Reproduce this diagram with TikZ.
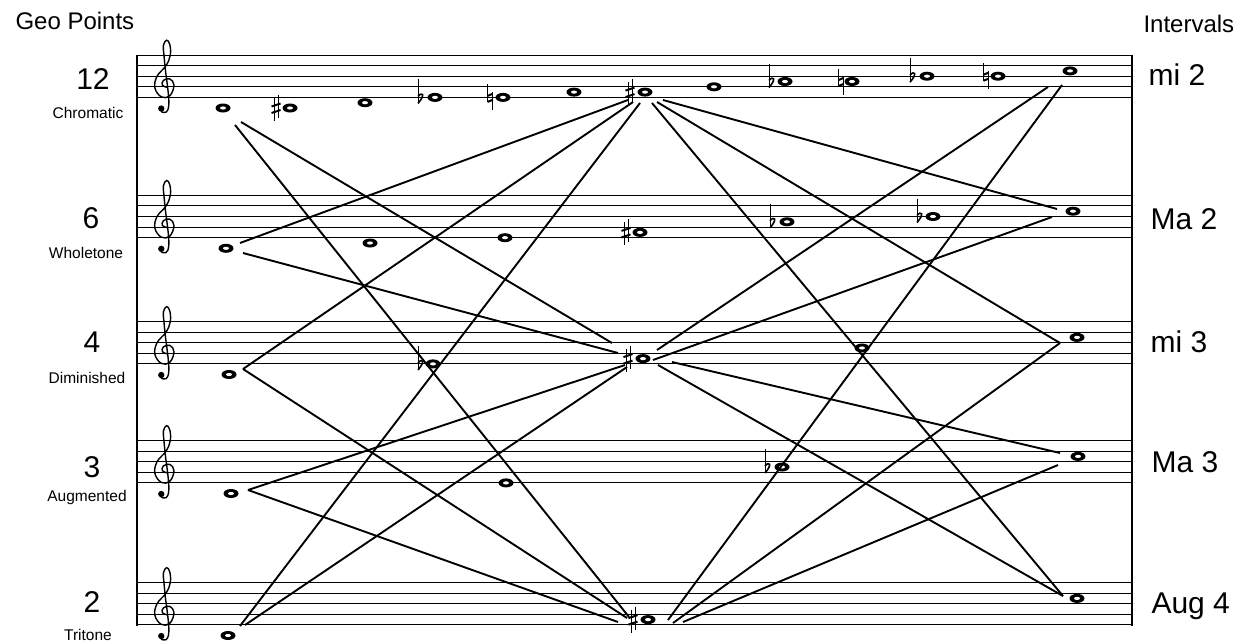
\documentclass[tikz,border=0pt]{standalone}
\usepackage{fontspec}
\setmainfont{Liberation Sans}
\usetikzlibrary{positioning,shapes.geometric,calc}

\tikzset{
  gclef/.pic={
    \begin{scope}[x=10.6pt,y=10.6pt]
      \draw[line width=1.4pt, line cap=round] plot[smooth, tension=0.65] coordinates {
        (0.2,0.95) (-0.25,1.15) (-0.15,1.6) (0.45,1.75) (0.85,1.15) (0.45,0.15)
        (-0.35,0.05) (-0.95,0.9) (-0.75,2.0) (0.1,3.0) (0.5,4.0) (0.45,5.0)
        (0.15,5.4) (-0.15,4.9) (-0.1,4.0) (0.05,2.5) (0.3,0.5) (0.35,-0.8)
        (0.1,-1.4) (-0.35,-1.35)};
      \fill (-0.35,-1.05) circle (0.3);
    \end{scope}
  },
  sharpsign/.pic={
    \draw[line width=0.8pt] (-2,-10) -- (-2,13) (2,-13) -- (2,10);
    \draw[line width=2pt] (-4.5,-1.5) -- (4.5,-4.5) (-4.5,5) -- (4.5,2);
  },
  naturalsign/.pic={
    \draw[line width=0.8pt] (-2.5,-13) -- (-2.5,5) (2.5,-5) -- (2.5,13);
    \draw[line width=2pt] (-2.5,-1.5) -- (2.5,-3.5) (-2.5,4.5) -- (2.5,2.5);
  },
  flatsign/.pic={
    \draw[line width=0.8pt] (0,-18) -- (0,6);
    \draw[line width=1.6pt] (0,-1) .. controls (4,-6) and (8,-3) .. (0,6);
  }
}

\begin{document}
\begin{tikzpicture}[x=1pt,y=-1pt,
    staffline/.style={line width=1pt},
    frame/.style={line width=2.4pt},
    link/.style={line width=1.9pt},
    note/.style={ellipse, fill=black, minimum width=15pt, minimum height=9pt, inner sep=0pt,
      path picture={\fill[white, rotate around={35:(path picture bounding box.center)}]
        (path picture bounding box.center) ellipse (3pt and 1.6pt);}},
    num/.style={font=\fontsize{30}{30}\selectfont, anchor=base},
    kind/.style={font=\fontsize{15.5}{16}\selectfont, anchor=base},
    ival/.style={font=\fontsize{30}{30}\selectfont, anchor=base west},
    head/.style={font=\fontsize{24}{24}\selectfont, anchor=base west}]
    \useasboundingbox (0,0) rectangle (1242,643);

    % Staves
    \foreach \t in {55,195.3,321.5,440.5,582.5} {
      \foreach \k in {0,...,4}
        \draw[staffline] (137,\t+\k*10.6) -- (1132,\t+\k*10.6);
      \pic at (165,\t+42.4) {gclef};
    }
    \draw[frame] (137,54.5) -- (137,625.5);
    \draw[frame] (1132,54.5) -- (1132,625.5);

    % Headings
    \node[head] (geo) at (12,29) {Geo Points};
    \node[head] (int) at (1140,32) {Intervals};

    % Left labels
    \node[num] (n12) at (93,89) {12};
    \node[kind] (k12) at (88,118) {Chromatic};
    \node[num] (n6) at (91,228) {6};
    \node[kind] (k6) at (86,258) {Wholetone};
    \node[num] (n4) at (92,352) {4};
    \node[kind] (k4) at (87,383) {Diminished};
    \node[num] (n3) at (92,477) {3};
    \node[kind] (k3) at (87,501) {Augmented};
    \node[num] (n2) at (92,612) {2};
    \node[kind] (k2) at (88,640) {Tritone};

    % Right labels
    \node[ival] (i1) at (1145,85) {mi 2};
    \node[ival] (i2) at (1147,229) {Ma 2};
    \node[ival] (i3) at (1147,352) {mi 3};
    \node[ival] (i4) at (1148,472) {Ma 3};
    \node[ival] (i5) at (1148,613) {Aug 4};

    % Chromatic
    \node[note] (chrC) at (223,108) {};
    \node[note] (chrCs) at (290,108) {};
    \node[note] (chrD) at (365,102.7) {};
    \node[note] (chrEb) at (435,97.4) {};
    \node[note] (chrE) at (503,97.4) {};
    \node[note] (chrF) at (574,92.1) {};
    \node[note] (chrFs) at (645,92.1) {};
    \node[note] (chrG) at (714,86.8) {};
    \node[note] (chrAb) at (785,81.5) {};
    \node[note] (chrA) at (852,81.5) {};
    \node[note] (chrBb) at (927,76.2) {};
    \node[note] (chrB) at (998,76.2) {};
    \node[note] (chrCC) at (1070,70.9) {};
    \pic at ($(chrCs)+(-14,0)$) {sharpsign};
    \pic at ($(chrEb)+(-17,0)$) {flatsign};
    \pic at ($(chrE)+(-13,0)$) {naturalsign};
    \pic at ($(chrFs)+(-15,0)$) {sharpsign};
    \pic at ($(chrAb)+(-16,0)$) {flatsign};
    \pic at ($(chrA)+(-11,0)$) {naturalsign};
    \pic at ($(chrBb)+(-17,0)$) {flatsign};
    \pic at ($(chrB)+(-12,0)$) {naturalsign};

    % Wholetone
    \node[note] (whlC) at (226,248.3) {};
    \node[note] (whlD) at (370,243) {};
    \node[note] (whlE) at (505,237.7) {};
    \node[note] (whlFs) at (640,232.4) {};
    \node[note] (whlAb) at (787,221.8) {};
    \node[note] (whlBb) at (933,216.5) {};
    \node[note] (whlCC) at (1073,211.2) {};
    \pic at ($(whlFs)+(-14,0)$) {sharpsign};
    \pic at ($(whlAb)+(-17,0)$) {flatsign};
    \pic at ($(whlBb)+(-16,0)$) {flatsign};

    % Diminished
    \node[note] (dimC) at (229,374.5) {};
    \node[note] (dimEb) at (433,363.9) {};
    \node[note] (dimFs) at (643,358.6) {};
    \node[note] (dimA) at (862,348) {};
    \node[note] (dimCC) at (1077,337.4) {};
    \pic at ($(dimEb)+(-15,0)$) {flatsign};
    \pic at ($(dimFs)+(-15,0)$) {sharpsign};

    % Augmented
    \node[note] (augC) at (231,493.5) {};
    \node[note] (augE) at (506,482.9) {};
    \node[note] (augAb) at (782,467) {};
    \node[note] (augCC) at (1078,456.4) {};
    \pic at ($(augAb)+(-17,0)$) {flatsign};

    % Tritone
    \node[note] (triC) at (228,635.5) {};
    \node[note] (triFs) at (648,619.6) {};
    \node[note] (triCC) at (1077,598.4) {};
    \pic at ($(triFs)+(-15,0)$) {sharpsign};

    % Line ends
    \coordinate (chrC1) at (235,125);
    \coordinate (chrC2) at (241,122);
    \coordinate (whlC1) at (240,243);
    \coordinate (whlC2) at (243,253);
    \coordinate (dimC1) at (243,369);
    \coordinate (augC1) at (248,490);
    \coordinate (triC1) at (240,626);
    \coordinate (triC2) at (245,625);
    \coordinate (chrFs1) at (628,100);
    \coordinate (chrFs2) at (633,102);
    \coordinate (chrFs3) at (640,103);
    \coordinate (chrFs4) at (652,103);
    \coordinate (chrFs5) at (657,102);
    \coordinate (chrFs6) at (663,100);
    \coordinate (dimFs1) at (612,343);
    \coordinate (dimFs2) at (618,353);
    \coordinate (dimFs3) at (625,365);
    \coordinate (dimFs4) at (627,367);
    \coordinate (dimFs5) at (657,350);
    \coordinate (dimFs6) at (653,360);
    \coordinate (dimFs7) at (672,362);
    \coordinate (dimFs8) at (658,365);
    \coordinate (triFs1) at (618,622);
    \coordinate (triFs2) at (627,618);
    \coordinate (triFs3) at (629,617);
    \coordinate (triFs4) at (668,620);
    \coordinate (triFs5) at (673,623);
    \coordinate (triFs6) at (683,622);
    \coordinate (chrCC1) at (1048,87);
    \coordinate (chrCC2) at (1062,85);
    \coordinate (whlCC1) at (1057,209);
    \coordinate (whlCC2) at (1052,217);
    \coordinate (dimCC1) at (1060,343);
    \coordinate (augCC1) at (1060,453);
    \coordinate (augCC2) at (1058,465);
    \coordinate (triCC1) at (1063,596);

    % Links
    \draw[link] (chrC1) -- (triFs3);
    \draw[link] (chrC2) -- (dimFs1);
    \draw[link] (whlC1) -- (chrFs1);
    \draw[link] (whlC2) -- (dimFs2);
    \draw[link] (dimC1) -- (chrFs2);
    \draw[link] (dimC1) -- (triFs2);
    \draw[link] (augC1) -- (dimFs3);
    \draw[link] (augC1) -- (triFs1);
    \draw[link] (triC1) -- (chrFs3);
    \draw[link] (triC2) -- (dimFs4);
    \draw[link] (chrFs4) -- (triCC1);
    \draw[link] (chrFs5) -- (dimCC1);
    \draw[link] (chrFs6) -- (whlCC1);
    \draw[link] (dimFs5) -- (chrCC1);
    \draw[link] (dimFs6) -- (whlCC2);
    \draw[link] (dimFs7) -- (augCC1);
    \draw[link] (dimFs8) -- (triCC1);
    \draw[link] (triFs4) -- (chrCC2);
    \draw[link] (triFs5) -- (dimCC1);
    \draw[link] (triFs6) -- (augCC2);
\end{tikzpicture}
\end{document}
